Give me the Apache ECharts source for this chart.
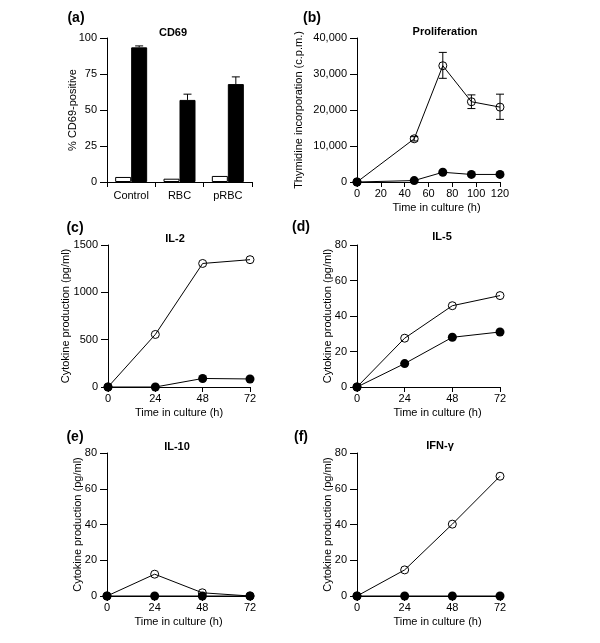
<!DOCTYPE html>
<html><head><meta charset="utf-8">
<script src="https://cdn.jsdelivr.net/npm/echarts@6/dist/echarts.min.js"></script>
<style>html,body{margin:0;padding:0;background:#fff}#c{width:600px;height:643px}</style>
</head><body><div id="c"></div>
<script>
// ---- Panel (a) CD69 ----
const cd69Categories = ['Control', 'RBC', 'pRBC'];
const cd69Unstim = [3.5, 2.3, 4.2];
const cd69Stim = [93.5, 57, 68];
const cd69StimErrHigh = [94.5, 61, 73];
const cd69YTicks = [0, 25, 50, 75, 100];

// ---- Panel (b) Proliferation ----
const prolifTime = [0, 48, 72, 96, 120];
const prolifOpen = [0, 12000, 32300, 22300, 20800];
const prolifOpenLow = [0, 11400, 28800, 20400, 17400];
const prolifOpenHigh = [0, 12600, 36000, 24200, 24400];
const prolifFilled = [0, 400, 2700, 2100, 2100];
const prolifXTicks = [0, 20, 40, 60, 80, 100, 120];
const prolifYTicks = [0, 10000, 20000, 30000, 40000];

// ---- Panels (c)-(f) Cytokines ----
const cytoTime = [0, 24, 48, 72];
const il2Open = [0, 555, 1305, 1345];
const il2Filled = [0, 0, 90, 85];
const il5Open = [0, 27.5, 45.8, 51.5];
const il5Filled = [0, 13.2, 28, 31];
const il10Open = [0, 12.2, 1.8, 0];
const il10Filled = [0, 0, 0, 0];
const ifngOpen = [0, 14.6, 40.2, 67];
const ifngFilled = [0, 0, 0, 0];
const cytoXTicks = [0, 24, 48, 72];
const il2YTicks = [0, 500, 1000, 1500];
const pgYTicks = [0, 20, 40, 60, 80];

const FONT = '"Liberation Sans", Arial, Helvetica, sans-serif';
const BLACK = '#000';

const grids = [
  {left: 107, top: 38, width: 145, height: 144},   // a
  {left: 357, top: 38, width: 143, height: 144},   // b
  {left: 108, top: 245, width: 142, height: 142},  // c
  {left: 357, top: 245, width: 143, height: 142},  // d
  {left: 107, top: 453, width: 143, height: 143},  // e
  {left: 357, top: 453, width: 143, height: 143}   // f
].map(g => Object.assign({show: false, containLabel: false, outerBoundsMode: 'none'}, g));

function xValueAxis(gi, ticks, shiftName) {
  return {
    type: 'value', gridIndex: gi,
    min: ticks[0], max: ticks[ticks.length - 1], interval: ticks[1] - ticks[0],
    name: 'Time in culture (h)', nameLocation: 'middle', nameGap: 20, nameMoveOverlap: false,
    nameTextStyle: {color: BLACK, fontSize: 11, fontFamily: FONT, padding: [0, 0, 0, shiftName || 0]},
    axisLine: {show: true, onZero: false, lineStyle: {color: BLACK, width: 1}},
    axisTick: {show: true, inside: false, length: 5, lineStyle: {color: BLACK, width: 1}},
    axisLabel: {color: BLACK, fontSize: 11, fontFamily: FONT, margin: 6},
    splitLine: {show: false}
  };
}
function yValueAxis(gi, ticks, name, gap, fmt) {
  return {
    type: 'value', gridIndex: gi,
    min: ticks[0], max: ticks[ticks.length - 1], interval: ticks[1] - ticks[0],
    name: name, nameLocation: 'middle', nameGap: gap, nameMoveOverlap: false,
    nameTextStyle: {color: BLACK, fontSize: 11, fontFamily: FONT},
    axisLine: {show: true, onZero: false, lineStyle: {color: BLACK, width: 1}},
    axisTick: {show: true, inside: false, length: 7, lineStyle: {color: BLACK, width: 1}},
    axisLabel: {color: BLACK, fontSize: 11, fontFamily: FONT, margin: 10, formatter: fmt || (v => String(v))},
    splitLine: {show: false}
  };
}

const commaFmt = v => String(v).replace(/\B(?=(\d{3})+(?!\d))/g, ',');

const xAxes = [
  {
    type: 'category', gridIndex: 0, data: cd69Categories, boundaryGap: true,
    axisLine: {show: true, lineStyle: {color: BLACK, width: 1}},
    axisTick: {show: true, inside: false, length: 5, alignWithLabel: false, lineStyle: {color: BLACK, width: 1}},
    axisLabel: {color: BLACK, fontSize: 11, fontFamily: FONT, margin: 8},
    splitLine: {show: false}
  },
  xValueAxis(1, prolifXTicks, 16),
  xValueAxis(2, cytoXTicks, 0),
  xValueAxis(3, cytoXTicks, 18),
  xValueAxis(4, cytoXTicks, 0),
  xValueAxis(5, cytoXTicks, 18)
];
const yAxes = [
  yValueAxis(0, cd69YTicks, '% CD69-positive', 29),
  yValueAxis(1, prolifYTicks, 'Thymidine incorporation (c.p.m.)', 53, commaFmt),
  yValueAxis(2, il2YTicks, 'Cytokine production (pg/ml)', 37),
  yValueAxis(3, pgYTicks, 'Cytokine production (pg/ml)', 24),
  yValueAxis(4, pgYTicks, 'Cytokine production (pg/ml)', 24),
  yValueAxis(5, pgYTicks, 'Cytokine production (pg/ml)', 24)
];

function errStyle() { return {stroke: BLACK, lineWidth: 1}; }
function vErrRender(params, api) {
  const x = api.value(0), lo = api.value(1), hi = api.value(2);
  const a = api.coord([x, hi]), b = api.coord([x, lo]);
  const w = 4;
  return {type: 'group', children: [
    {type: 'line', shape: {x1: a[0], y1: a[1], x2: b[0], y2: b[1]}, style: errStyle()},
    {type: 'line', shape: {x1: a[0] - w, y1: a[1], x2: a[0] + w, y2: a[1]}, style: errStyle()},
    {type: 'line', shape: {x1: b[0] - w, y1: b[1], x2: b[0] + w, y2: b[1]}, style: errStyle()}
  ]};
}
function barErrRender(params, api) {
  const i = api.value(0), v = api.value(1), hi = api.value(2);
  const a = api.coord([i, hi]), b = api.coord([i, v]);
  const off = 8, w = 4;
  return {type: 'group', children: [
    {type: 'line', shape: {x1: a[0] + off, y1: a[1], x2: b[0] + off, y2: b[1]}, style: errStyle()},
    {type: 'line', shape: {x1: a[0] + off - w, y1: a[1], x2: a[0] + off + w, y2: a[1]}, style: errStyle()}
  ]};
}

function openLine(gi, xs, ys) {
  return {
    type: 'line', xAxisIndex: gi, yAxisIndex: gi,
    data: xs.map((x, i) => [x, ys[i]]),
    symbol: 'circle', symbolSize: 8,
    itemStyle: {color: 'rgba(0,0,0,0)', borderColor: BLACK, borderWidth: 1},
    lineStyle: {color: BLACK, width: 1},
    animation: false, z: 3
  };
}
function filledLine(gi, xs, ys) {
  return {
    type: 'line', xAxisIndex: gi, yAxisIndex: gi,
    data: xs.map((x, i) => [x, ys[i]]),
    symbol: 'circle', symbolSize: 9,
    itemStyle: {color: BLACK, borderColor: BLACK, borderWidth: 0},
    lineStyle: {color: BLACK, width: 1},
    animation: false, z: 4
  };
}

const series = [
  {type: 'bar', xAxisIndex: 0, yAxisIndex: 0, data: cd69Unstim, barWidth: 16, barGap: '0%',
   itemStyle: {color: '#fff', borderColor: BLACK, borderWidth: 1}, animation: false},
  {type: 'bar', xAxisIndex: 0, yAxisIndex: 0, data: cd69Stim, barWidth: 16, barGap: '0%',
   itemStyle: {color: BLACK, borderColor: BLACK, borderWidth: 1}, animation: false},
  {type: 'custom', xAxisIndex: 0, yAxisIndex: 0, renderItem: barErrRender,
   data: cd69Stim.map((v, i) => [i, v, cd69StimErrHigh[i]]), animation: false, z: 5},
  {type: 'custom', xAxisIndex: 1, yAxisIndex: 1, renderItem: vErrRender,
   data: prolifTime.map((t, i) => [t, prolifOpenLow[i], prolifOpenHigh[i]]).filter(d => d[2] > d[1]),
   animation: false, z: 2},
  openLine(1, prolifTime, prolifOpen),
  filledLine(1, prolifTime, prolifFilled),
  openLine(2, cytoTime, il2Open),
  filledLine(2, cytoTime, il2Filled),
  openLine(3, cytoTime, il5Open),
  filledLine(3, cytoTime, il5Filled),
  openLine(4, cytoTime, il10Open),
  filledLine(4, cytoTime, il10Filled),
  openLine(5, cytoTime, ifngOpen),
  filledLine(5, cytoTime, ifngFilled)
];

function ttl(text, cx, top, size, bold) {
  return {text: text, left: cx, top: top, textAlign: 'center', padding: 0,
    textStyle: {color: BLACK, fontSize: size, fontWeight: bold ? 'bold' : 'normal', fontFamily: FONT}};
}
const titles = [
  ttl('CD69', 173, 27, 11, true),
  ttl('Proliferation', 445, 26, 11, true),
  ttl('IL-2', 175, 233, 11, true),
  ttl('IL-5', 442, 231, 11, true),
  ttl('IL-10', 177, 441, 11, true),
  ttl('IFN-\u03b3', 440, 440, 11, true),
  ttl('(a)', 76, 11, 14, true),
  ttl('(b)', 312, 11, 14, true),
  ttl('(c)', 75, 221, 14, true),
  ttl('(d)', 301, 220, 14, true),
  ttl('(e)', 75, 430, 14, true),
  ttl('(f)', 301, 430, 14, true)
];

const chart = echarts.init(document.getElementById('c'), null, {renderer: 'canvas'});
chart.setOption({
  backgroundColor: '#fff',
  animation: false,
  title: titles,
  grid: grids,
  xAxis: xAxes,
  yAxis: yAxes,
  tooltip: {show: false},
  series: series
});
</script>
</body></html>
